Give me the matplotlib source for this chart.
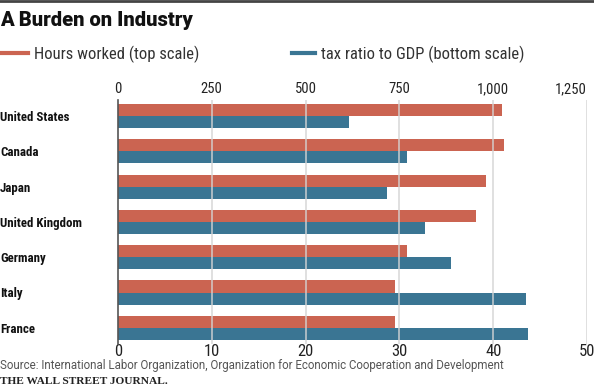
import matplotlib
matplotlib.use("Agg")
import matplotlib.pyplot as plt
from matplotlib.lines import Line2D
import numpy as np

countries = ["United States", "Canada", "Japan", "United Kingdom", "Germany", "Italy", "France"]
hours_worked = [1023, 1028, 980, 953, 771, 738, 738]
tax_ratio = [24.6, 30.8, 28.7, 32.7, 35.5, 43.5, 43.7]
bottom_ticks = [0, 10, 20, 30, 40, 50]
top_tick_labels = ["0", "250", "500", "750", "1,000", "1,250"]

RED = "#cb6451"
BLUE = "#3a7593"
COND = ["Roboto Condensed", "Roboto", "DejaVu Sans"]
REG = ["Roboto", "DejaVu Sans"]

W, H = 594, 386
fig = plt.figure(figsize=(W / 100, H / 100), dpi=100)

fig.add_artist(Line2D([0, 1], [1 - 1 / H, 1 - 1 / H], color="#444444", lw=2, transform=fig.transFigure))

fig.text(0.0, 1 - 21 / H, "A Burden on Industry", fontsize=14.5, fontweight=900,
         family=REG, va="center", ha="left", color="#111111")

ax_left, ax_right = 118 / W, 587 / W
pitch = 35.3
top_px = 116 - 0.45 * pitch
height_px = 6.9 * pitch
ax = fig.add_axes([ax_left, 1 - (top_px + height_px) / H, ax_right - ax_left, height_px / H])

y = np.arange(len(countries))
ratio = 1250 / 50
bh = 0.34
ax.barh(y - bh / 2, [h / ratio for h in hours_worked], height=bh, color=RED, zorder=1)
ax.barh(y + bh / 2, tax_ratio, height=bh, color=BLUE, zorder=1)

ax.set_xlim(0, 50)
ax.set_ylim(6.45, -0.45)
ax.set_xticks(bottom_ticks)
ax.set_xticklabels([str(t) for t in bottom_ticks], family=COND, fontsize=12, color="#222222")
ax.tick_params(axis="x", length=0, pad=0.5)
for v in bottom_ticks[1:]:
    ax.axvline(v, color="#d4d4d4", lw=1.2, zorder=2, alpha=0.85)

ax.set_yticks(y)
ax.set_yticklabels(countries, fontweight="bold", family=COND, fontsize=9.3, color="#111111")
ax.tick_params(axis="y", length=0, pad=118 * 0.72)
for lbl in ax.get_yticklabels():
    lbl.set_ha("left")

for s in ["top", "right", "bottom"]:
    ax.spines[s].set_visible(False)
ax.spines["left"].set_color("#555555")
ax.spines["left"].set_linewidth(1.2)
ax.spines["left"].set_zorder(3)

sec = ax.secondary_xaxis("top", functions=(lambda x: x * ratio, lambda x: x / ratio))
sec.set_xticks([t * ratio for t in bottom_ticks])
sec.set_xticklabels(top_tick_labels, family=COND, fontsize=10.5, color="#222222")
sec.tick_params(axis="x", length=0, pad=3)
sec.spines["top"].set_visible(False)
sec.get_xticklabels()[-1].set_ha("right")

h1 = Line2D([], [], color=RED, lw=3)
h2 = Line2D([], [], color=BLUE, lw=3)
leg1 = fig.legend([h1], ["Hours worked (top scale)"], loc="center left", bbox_to_anchor=(1 / W, 1 - 54 / H),
                  frameon=False, borderpad=0, borderaxespad=0, handlelength=1.65, handletextpad=0.35,
                  prop={"family": COND, "size": 12})
leg2 = fig.legend([h2], ["tax ratio to GDP (bottom scale)"], loc="center left", bbox_to_anchor=(292 / W, 1 - 54 / H),
                  frameon=False, borderpad=0, borderaxespad=0, handlelength=1.4, handletextpad=0.35,
                  prop={"family": COND, "size": 12})
for lg in (leg1, leg2):
    for t in lg.get_texts():
        t.set_color("#333333")

fig.text(0.0, 1 - 365 / H, "Source: International Labor Organization, Organization for Economic Cooperation and Development",
         family=REG, fontsize=8.3, color="#555555", va="center", ha="left")
fig.text(0.0, 1 - 381 / H, "THE WALL STREET JOURNAL.", family=["Liberation Serif", "DejaVu Serif"],
         fontweight="bold", fontsize=8.2, color="#222222", va="center", ha="left")

fig.savefig("out.png", dpi=100)
